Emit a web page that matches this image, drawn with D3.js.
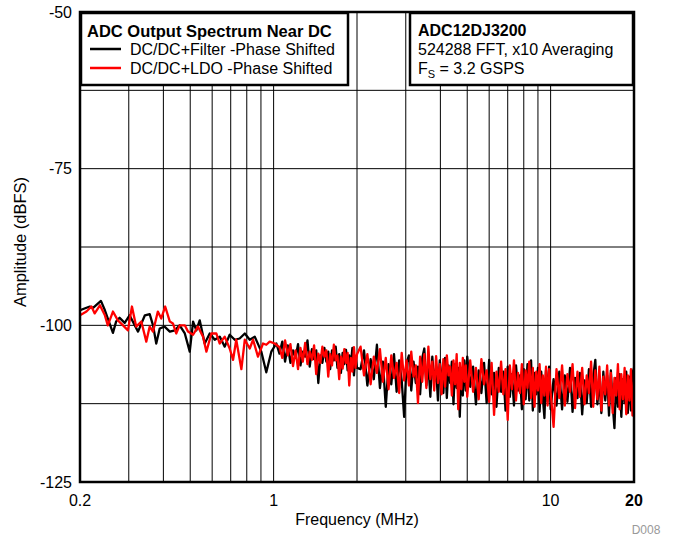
<!DOCTYPE html>
<html>
<head>
<meta charset="utf-8">
<script src="https://d3js.org/d3.v7.min.js"></script>
<style>
  body { margin: 0; background: #fff; }
  svg { display: block; font-family: "Liberation Sans", Arial, sans-serif; }
</style>
</head>
<body>
<div id="chart"></div>
<script>
"use strict"

// low frequency part, read point by point: [MHz, dBFS]
var blackLow = [[0.200,-97.6],[0.217,-97.0],[0.223,-97.2],[0.238,-96.1],[0.246,-97.6],[0.263,-101.2],[0.270,-99.4],
  [0.278,-98.8],[0.290,-99.6],[0.302,-98.4],[0.324,-101.0],[0.343,-98.4],[0.357,-98.2],[0.367,-100.0],[0.377,-102.9],
  [0.388,-100.5],[0.404,-100.2],[0.422,-101.0],[0.440,-100.8],[0.458,-100.0],[0.478,-101.3],[0.498,-104.2],[0.512,-99.4],
  [0.526,-100.8],[0.541,-99.2],[0.564,-102.9],[0.588,-101.3],[0.613,-102.3],[0.639,-101.8],[0.666,-103.4],[0.694,-101.5],
  [0.724,-102.3],[0.754,-102.1],[0.787,-101.3],[0.820,-102.3],[0.855,-101.8],[0.903,-104.2],[0.941,-107.5],[0.981,-104.2],
  [1.023,-102.9]];
var redLow = [[0.200,-98.4],[0.211,-97.8],[0.220,-97.0],[0.226,-98.1],[0.236,-96.8],[0.246,-98.4],[0.252,-100.0],
  [0.263,-97.8],[0.274,-99.2],[0.286,-100.0],[0.298,-100.8],[0.308,-97.0],[0.319,-100.2],[0.333,-99.4],[0.347,-102.6],
  [0.357,-100.2],[0.367,-101.0],[0.382,-97.8],[0.393,-98.9],[0.406,-97.0],[0.422,-99.4],[0.433,-99.7],[0.445,-101.3],
  [0.458,-100.0],[0.478,-100.0],[0.491,-101.0],[0.512,-101.5],[0.533,-100.2],[0.556,-101.8],[0.572,-104.2],[0.596,-101.3],
  [0.621,-101.3],[0.639,-102.9],[0.666,-101.8],[0.694,-103.7],[0.714,-105.5],[0.733,-102.3],[0.765,-107.0],[0.787,-102.3],
  [0.820,-103.7],[0.843,-102.3],[0.878,-105.0],[0.916,-102.9],[0.941,-103.1],[0.968,-102.6],[1.009,-102.9]];

// dense part (1 - 20 MHz): one frequency list, one amplitude list per trace
var freqHigh = [
  1.05,1.075,1.1,1.125,1.15,1.175,1.2,1.225,1.25,1.275,1.3,1.325,1.35,1.375,1.4,1.425,1.45,1.475,1.5,1.525,
  1.55,1.575,1.6,1.625,1.65,1.675,1.7,1.725,1.75,1.775,1.8,1.825,1.85,1.875,1.9,1.925,1.95,1.975,2.0,
  2.06,2.12,2.18,2.24,2.3,2.36,2.42,2.48,2.54,2.6,2.66,2.72,2.78,2.84,2.9,2.96,3.02,3.08,3.14,3.2,
  3.26,3.32,3.38,3.44,3.5,3.56,3.62,3.68,3.74,3.8,3.86,3.92,3.98,4.04,4.1,4.16,4.22,4.28,4.34,4.4,
  4.46,4.52,4.58,4.64,4.7,4.76,4.82,4.88,4.94,5.0,
  5.125,5.25,5.375,5.5,5.625,5.75,5.875,6,6.125,6.25,6.375,6.5,6.625,6.75,6.875,7,7.125,7.25,7.375,7.5,
  7.625,7.75,7.875,8,8.125,8.25,8.375,8.5,8.625,8.75,8.875,9,9.125,9.25,9.375,9.5,9.625,9.75,9.875,10,
  10.25,10.5,10.75,11,11.25,11.5,11.75,12,12.25,12.5,12.75,13,13.25,13.5,13.75,14,14.25,14.5,14.75,15,
  15.25,15.5,15.75,16,16.25,16.5,16.75,17,17.25,17.5,17.75,18,18.25,18.5,18.75,19,19.25,19.5,19.75,20];
var blackHigh = [
  -104.5,-102.6,-105.8,-103.2,-106.0,-104.0,-105.2,-103.0,-106.4,-104.2,-105.0,-102.4,-106.6,-103.8,-105.4,-104.0,-109.2,-104.8,-106.0,-103.6,
  -105.8,-104.2,-107.0,-104.0,-105.6,-103.4,-106.8,-104.6,-107.6,-104.4,-106.2,-103.9,-107.2,-104.8,-106.4,-103.6,-108.0,-105.0,-106.8,
  -107.0,-104.0,-109.6,-105.4,-108.6,-103.1,-110.0,-105.8,-113.0,-106.2,-109.4,-104.6,-110.6,-105.6,-108.8,-114.6,-106.0,-104.8,-110.4,-105.8,
  -109.2,-106.6,-111.0,-105.2,-103.7,-109.6,-106.2,-111.4,-105.0,-109.0,-106.8,-112.0,-105.6,-108.4,-110.8,-105.2,-111.6,-106.4,-109.2,-105.8,
  -112.6,-106.2,-110.0,-106.8,-114.6,-107.0,-111.2,-105.6,-110.4,-105.0,
  -109.8,-106.6,-112.6,-107.2,-110.8,-106.0,-112.4,-105.5,-111.0,-107.6,-113.0,-106.8,-110.6,-107.4,-113.6,-106.6,-111.4,-107.8,-112.8,-106.4,
  -110.4,-108.0,-113.4,-107.0,-111.8,-106.2,-112.0,-105.6,-113.6,-107.6,-111.0,-106.8,-113.8,-107.4,-111.6,-114.8,-107.2,-112.2,-106.6,-113.4,
  -108.6,-112.8,-107.4,-113.4,-108.0,-112.2,-106.8,-113.8,-108.4,-111.6,-107.6,-114.2,-108.8,-112.4,-107.0,-113.0,-108.2,-105.5,-112.6,-108.6,
  -114.0,-107.4,-112.0,-108.0,-114.4,-107.2,-112.6,-116.4,-108.4,-113.0,-107.8,-114.6,-108.6,-112.4,-107.4,-114.0,-108.2,-113.6,-107.6,-106.8];
var redHigh = [
  -103.5,-105.2,-102.4,-104.8,-103.0,-106.5,-104.0,-107.0,-103.6,-105.8,-102.8,-106.2,-104.2,-105.5,-103.2,-107.8,-104.5,-106.0,-103.4,-105.0,
  -104.0,-108.2,-104.6,-106.4,-103.1,-105.6,-104.8,-108.6,-105.0,-106.9,-103.8,-106.0,-104.4,-109.6,-105.2,-107.4,-103.5,-106.8,-104.6,
  -103.4,-108.0,-104.6,-109.4,-105.0,-107.6,-103.8,-109.0,-105.2,-110.2,-104.8,-108.4,-106.0,-110.8,-104.4,-108.8,-105.6,-109.6,-104.2,-108.2,
  -106.4,-112.4,-105.0,-109.0,-104.6,-110.0,-103.4,-108.6,-105.8,-110.4,-104.9,-109.2,-106.2,-111.0,-105.4,-109.8,-104.8,-108.0,-106.6,-111.2,
  -105.6,-109.4,-104.6,-113.4,-106.0,-110.2,-105.2,-109.0,-106.4,-111.4,
  -105.6,-110.6,-106.8,-111.8,-105.4,-109.4,-107.2,-112.2,-106.0,-114.3,-107.4,-110.6,-105.8,-111.0,-107.0,-115.1,-106.4,-110.2,-105.6,-112.0,
  -107.6,-110.8,-106.2,-112.6,-107.2,-110.0,-105.8,-111.6,-106.8,-113.0,-107.4,-110.4,-106.2,-112.4,-108.0,-111.2,-106.6,-112.8,-107.0,-110.6,
  -116.2,-107.0,-111.6,-106.4,-112.8,-107.8,-110.6,-106.2,-113.2,-107.4,-111.4,-106.8,-112.6,-108.0,-110.8,-105.8,-113.0,-107.2,-111.8,-106.6,
  -113.6,-108.2,-111.0,-106.4,-112.8,-107.6,-114.0,-108.4,-111.2,-106.2,-113.4,-107.8,-111.8,-106.8,-114.2,-108.0,-112.0,-107.0,-114.4,-109.0];

var yTicks = [-50, -75, -100, -125];
var yGrid = [-62.5, -75, -87.5, -100, -112.5];
var xTicks = [0.2, 1, 10, 20];
var xTickLabels = ["0.2", "1", "10", "20"];
var xGrid = [0.3, 0.4, 0.5, 0.6, 0.7, 0.8, 0.9, 1, 2, 3, 4, 5, 6, 7, 8, 9, 10];

var seriesNames = ["DC/DC+Filter -Phase Shifted", "DC/DC+LDO -Phase Shifted"];
var seriesColors = ["#000000", "#ff0000"];

function desenha() {
  var W = 673, H = 537;
  var left = 80, right = 634, top = 12, bottom = 482;

  var svg = d3.select("#chart").append("svg")
    .attr("width", W).attr("height", H);

  var x = d3.scaleLog().domain([0.2, 20]).range([left, right]);
  var y = d3.scaleLinear().domain([-125, -50]).range([bottom, top]);

  svg.append("clipPath").attr("id", "plotclip")
    .append("rect").attr("x", left).attr("y", top)
    .attr("width", right - left).attr("height", bottom - top);

  // grid
  svg.append("g").selectAll("line").data(xGrid).enter().append("line")
    .attr("x1", d => x(d)).attr("x2", d => x(d))
    .attr("y1", top).attr("y2", bottom)
    .attr("stroke", "#000").attr("stroke-width", 1);
  svg.append("g").selectAll("line").data(yGrid).enter().append("line")
    .attr("x1", left).attr("x2", right)
    .attr("y1", d => y(d)).attr("y2", d => y(d))
    .attr("stroke", "#000").attr("stroke-width", 1);

  // traces
  var linha = d3.line().x(d => x(d[0])).y(d => y(d[1]));
  var dados = [
    blackLow.concat(freqHigh.map((f, i) => [f, blackHigh[i]])),
    redLow.concat(freqHigh.map((f, i) => [f, redHigh[i]]))
  ];
  var g = svg.append("g").attr("clip-path", "url(#plotclip)");
  dados.forEach(function(d, i) {
    g.append("path")
      .datum(d.filter(p => p[1] !== undefined))
      .attr("d", linha)
      .attr("fill", "none")
      .attr("stroke", seriesColors[i])
      .attr("stroke-width", 2.3)
      .attr("stroke-linejoin", "round");
  });

  // legend boxes
  svg.append("rect").attr("x", left + 1).attr("y", top + 1).attr("width", 348 - left - 1).attr("height", 85 - top - 1)
    .attr("fill", "#fff").attr("stroke", "#000").attr("stroke-width", 2.5);
  svg.append("rect").attr("x", 410).attr("y", top + 1).attr("width", right - 410 - 1).attr("height", 85 - top - 1)
    .attr("fill", "#fff").attr("stroke", "#000").attr("stroke-width", 2.5);

  // frame
  svg.append("rect").attr("x", left).attr("y", top)
    .attr("width", right - left).attr("height", bottom - top)
    .attr("fill", "none").attr("stroke", "#000").attr("stroke-width", 2.5);

  svg.append("text").attr("x", 87).attr("y", 37)
    .style("font-size", "16.5px").style("font-weight", "bold")
    .text("ADC Output Spectrum Near DC");
  seriesNames.forEach(function(n, i) {
    var yy = 49 + i * 19;
    svg.append("line").attr("x1", 90).attr("x2", 121).attr("y1", yy).attr("y2", yy)
      .attr("stroke", seriesColors[i]).attr("stroke-width", 2.5);
    svg.append("text").attr("x", 130).attr("y", yy + 5.5)
      .style("font-size", "16px").text(n);
  });

  svg.append("text").attr("x", 418).attr("y", 36)
    .style("font-size", "16px").style("font-weight", "bold").text("ADC12DJ3200");
  svg.append("text").attr("x", 418).attr("y", 55)
    .style("font-size", "16px").text("524288 FFT, x10 Averaging");
  var fs = svg.append("text").attr("x", 418).attr("y", 73.5).style("font-size", "16px");
  fs.append("tspan").text("F");
  fs.append("tspan").attr("dy", 4).style("font-size", "11px").text("S");
  fs.append("tspan").attr("dy", -4).text(" = 3.2 GSPS");

  // axis labels
  svg.append("g").selectAll("text").data(yTicks).enter().append("text")
    .attr("x", 72).attr("y", d => y(d)).attr("dy", "0.35em")
    .attr("text-anchor", "end").style("font-size", "16px")
    .text(d => d);
  svg.append("g").selectAll("text").data(xTicks).enter().append("text")
    .attr("x", d => x(d)).attr("y", 506)
    .attr("text-anchor", "middle").style("font-size", "16px")
    .style("font-weight", (d, i) => i == xTicks.length - 1 ? "bold" : "normal")
    .text((d, i) => xTickLabels[i]);

  svg.append("text").attr("x", 357).attr("y", 525).attr("text-anchor", "middle")
    .style("font-size", "16px").text("Frequency (MHz)");
  svg.append("text").attr("transform", "translate(26,242) rotate(-90)").attr("text-anchor", "middle")
    .style("font-size", "16.5px").text("Amplitude (dBFS)");
  svg.append("text").attr("x", 646).attr("y", 534).attr("text-anchor", "middle")
    .style("font-size", "12px").attr("fill", "#999").text("D008");
}

desenha();
</script>
</body>
</html>
